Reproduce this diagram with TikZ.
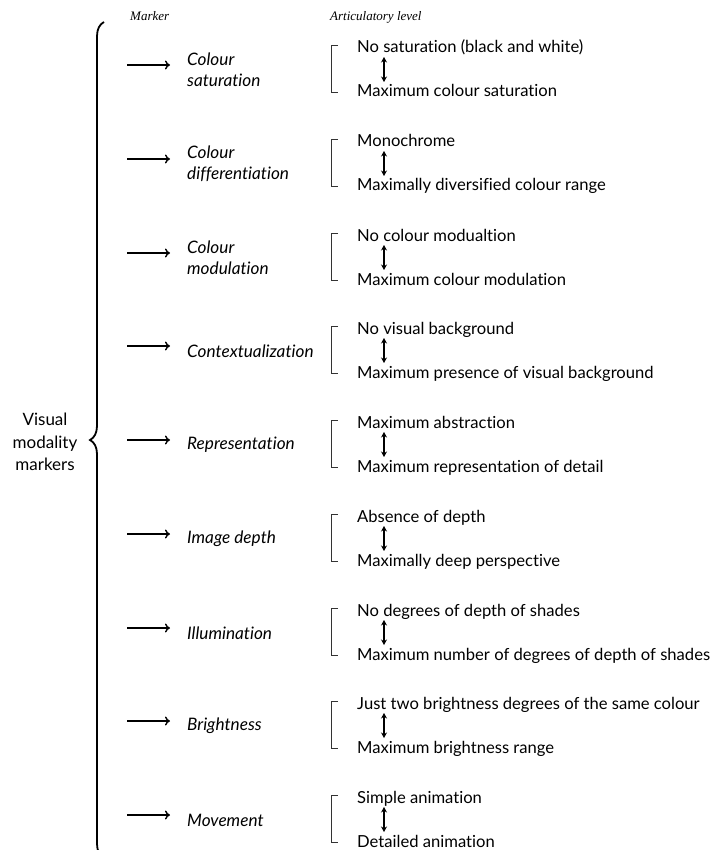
\documentclass[tikz,border=0pt]{standalone}
\usepackage{fontspec}
\setmainfont{Lato}[Ligatures=NoCommon]
\newfontfamily\headfont{Liberation Serif}
\usetikzlibrary{positioning,arrows.meta,decorations.pathreplacing}

\begin{document}
\begin{tikzpicture}[x=1pt,y=-1pt,
    head/.style={anchor=base west, inner sep=0, font=\headfont\itshape\fontsize{13}{15}\selectfont},
    marker/.style={anchor=west, inner sep=0, align=left, font=\itshape\fontsize{17.2}{21}\selectfont},
    level/.style={anchor=base west, inner sep=0, font=\fontsize{16.6}{18}\selectfont},
    pointer/.style={-{To[length=5pt,width=9pt]}, line width=1.4pt},
    bracket/.style={line width=0.9pt, black!80},
    swing/.style={{Stealth[length=5.5pt,width=6pt]}-{Stealth[length=5.5pt,width=6pt]}, line width=1.1pt}]
   \useasboundingbox (0,0) rectangle (714,850);
   \clip (0,0) rectangle (714,850);
   % headings
   \node[head] (hmarker) at (130,21) {Marker};
   \node[head] (hlevel) at (330,21) {Articulatory level};
   % left label and brace
   \node[align=center, inner sep=0, font=\fontsize{17}{22.5}\selectfont] (visual) at (45,442) {Visual\\modality\\markers};
   \coordinate (btop) at (104,22);
   \coordinate (bbot) at (104,858);
   \draw[decorate, decoration={brace, amplitude=14pt}, line width=1.8pt] (bbot) -- (btop);
   % markers
   \node[marker] (m1) at (187,70) {Colour\\saturation};
   \node[level] (t1) at (357,53) {No saturation (black and white)};
   \node[level] (b1) at (357,97) {Maximum colour saturation};
   \node[marker] (m2) at (187,164) {Colour\\differentiation};
   \node[level] (t2) at (357,147) {Monochrome};
   \node[level] (b2) at (357,191) {Maximally diversified colour range};
   \node[marker] (m3) at (187,258) {Colour\\modulation};
   \node[level] (t3) at (357,241) {No colour modualtion};
   \node[level] (b3) at (357,285) {Maximum colour modulation};
   \node[marker] (m4) at (187,351) {Contextualization};
   \node[level] (t4) at (357,334) {No visual background};
   \node[level] (b4) at (357,378) {Maximum presence of visual background};
   \node[marker] (m5) at (187,445) {Representation};
   \node[level] (t5) at (357,428) {Maximum abstraction};
   \node[level] (b5) at (357,472) {Maximum representation of detail};
   \node[marker] (m6) at (187,539) {Image depth};
   \node[level] (t6) at (357,522) {Absence of depth};
   \node[level] (b6) at (357,566) {Maximally deep perspective};
   \node[marker] (m7) at (187,633) {Illumination};
   \node[level] (t7) at (357,616) {No degrees of depth of shades};
   \node[level] (b7) at (357,660) {Maximum number of degrees of depth of shades};
   \node[marker] (m8) at (187,726) {Brightness};
   \node[level] (t8) at (357,709) {Just two brightness degrees of the same colour};
   \node[level] (b8) at (357,753) {Maximum brightness range};
   \node[marker] (m9) at (187,820) {Movement};
   \node[level] (t9) at (357,803) {Simple animation};
   \node[level] (b9) at (357,847) {Detailed animation};
   % arrows, brackets and ranges
   \foreach \i in {1,...,9}{
     \draw[pointer] ([xshift=-60pt,yshift=5pt]m\i.west) -- ([xshift=-17pt,yshift=5pt]m\i.west);
     \draw[bracket] ([xshift=-19pt,yshift=8pt]t\i.base west) -- ++(-7pt,0) |- ([xshift=-19pt,yshift=5pt]b\i.base west);
     \draw[swing] ([xshift=27pt,yshift=-4pt]t\i.base west) -- ([xshift=27pt,yshift=15pt]b\i.base west);
   }
\end{tikzpicture}
\end{document}
